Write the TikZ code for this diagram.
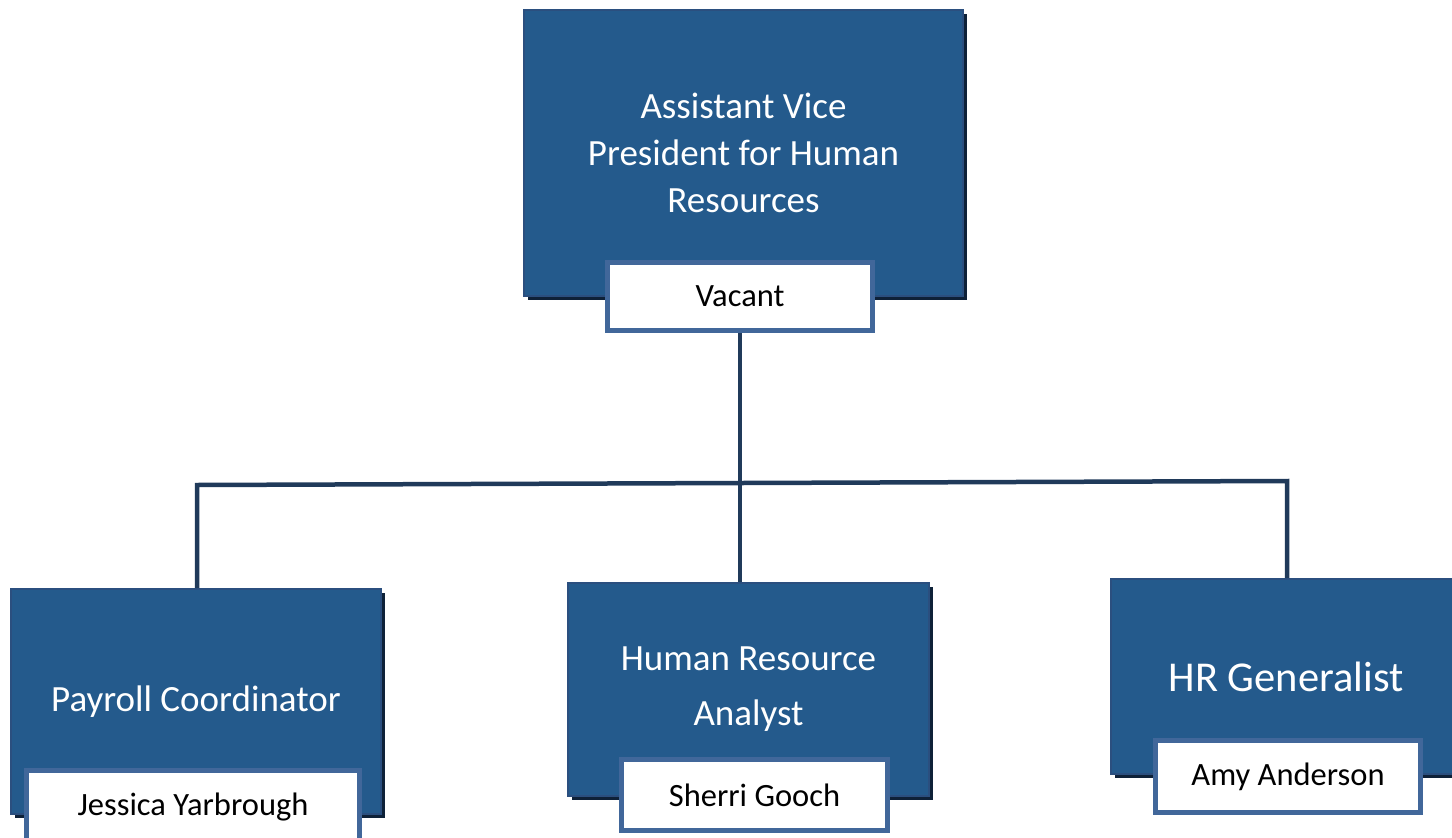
\documentclass[tikz,border=0pt]{standalone}
\usepackage{fontspec}
\setmainfont{Carlito}
\usetikzlibrary{shadows}
\definecolor{boxblue}{HTML}{245A8C}
\definecolor{boxedge}{HTML}{2B4F7F}
\definecolor{nameedge}{HTML}{41679A}
\definecolor{linknavy}{HTML}{203A5A}
\definecolor{shadenavy}{HTML}{0E2138}
\begin{document}
\begin{tikzpicture}[x=1pt,y=-1pt]
		\tikzstyle{post}=[draw=boxedge,fill=boxblue,line width=2pt,text=white,align=center,
			drop shadow={shadow xshift=4pt,shadow yshift=-4pt,fill=shadenavy,opacity=1}]
		\tikzstyle{holder}=[draw=nameedge,fill=white,line width=5pt,text=black,inner sep=0pt,
			font=\fontsize{32.5}{38}\selectfont]
		\tikzstyle{link}=[draw=linknavy,line width=4.5pt]
		\useasboundingbox (0,0) rectangle (1452,838);

		\node[post,minimum width=439pt,minimum height=286pt,font=\fontsize{37}{47}\selectfont](avp) at (743.5,153)
			{Assistant Vice\\President for Human\\Resources};
		\node[holder,minimum width=265pt,minimum height=68pt](vacant) at (740,296.5){Vacant};

		\node[post,minimum width=370pt,minimum height=225pt,font=\fontsize{37}{47}\selectfont](payroll) at (196,701.5)
			{Payroll Coordinator};
		\node[holder,minimum width=333pt,minimum height=75pt](jessica) at (193,807.5){Jessica Yarbrough};

		\node[post,minimum width=361pt,minimum height=213pt,font=\fontsize{37}{55}\selectfont](analyst) at (748.5,689.5)
			{Human Resource\\Analyst};
		\node[holder,minimum width=266pt,minimum height=71pt](sherri) at (754.5,795){Sherri Gooch};

		\node[post,minimum width=350pt,minimum height=195pt,font=\fontsize{42.5}{50}\selectfont](generalist) at (1286,676.5)
			{HR Generalist};
		\node[holder,minimum width=265pt,minimum height=72pt](amy) at (1288,776.5){Amy Anderson};

		\coordinate (barleft) at (197,485);
		\coordinate (barright) at (1287,481);

		\draw[link] (vacant.south) -- (vacant.south |- analyst.north);
		\draw[link] (barleft |- payroll.north) -- (barleft) -- (barright) -- (barright |- generalist.north);
\end{tikzpicture}
\end{document}
